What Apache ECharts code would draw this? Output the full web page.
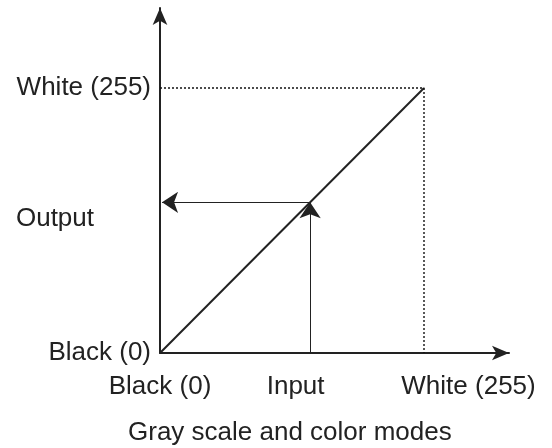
<!DOCTYPE html>
<html>
<head>
<meta charset="utf-8">
<script src="https://cdn.jsdelivr.net/npm/echarts@6/dist/echarts.min.js"></script>
<style>
  html, body { margin: 0; padding: 0; background: #fff; }
  #chart { width: 552px; height: 448px; }
</style>
</head>
<body>
<div id="chart"></div>
<script>
// input / output levels (0..255)
var levelMax = 255
var inputLevel = 145
var outputLevel = 145

// tick labels and where they sit on the axes
var xLabelPos = [0, 131, 298]
var xLabels = ['Black (0)', 'Input', 'White (255)']
var yLabelPos = [0, 129, 255]
var yLabels = ['Black (0)', 'Output', 'White (255)']

var titleText = 'Gray scale and color modes'

var font = 'Liberation Sans, Arial, Helvetica, sans-serif'
var ink = '#222'

var myChart = echarts.init(document.getElementById('chart'))

var option = {
    animation: false,
    title: {
        text: titleText,
        left: 123,
        top: 415,
        textStyle: { fontFamily: font, fontSize: 26, fontWeight: 'normal', color: ink }
    },
    grid: { left: 160, top: 8, width: 349, height: 345 },
    xAxis: {
        type: 'value',
        min: 0,
        max: 337.1,
        axisLine: { show: true, symbol: ['none', 'arrow'], symbolSize: [11, 17], lineStyle: { color: ink, width: 2 } },
        axisTick: { show: false },
        splitLine: { show: false },
        axisLabel: {
            customValues: xLabelPos,
            margin: 21,
            fontFamily: font,
            fontSize: 26,
            color: ink,
            formatter: function (v) { return xLabels[xLabelPos.indexOf(v)] }
        }
    },
    yAxis: {
        type: 'value',
        min: 0,
        max: 332,
        axisLine: { show: true, symbol: ['none', 'arrow'], symbolSize: [11, 17], lineStyle: { color: ink, width: 2 } },
        axisTick: { show: false },
        splitLine: { show: false },
        axisLabel: {
            customValues: yLabelPos,
            margin: 9,
            fontFamily: font,
            fontSize: 26,
            color: ink,
            formatter: function (v) {
                var s = yLabels[yLabelPos.indexOf(v)]
                return s === 'Output' ? '{o|' + s + '}' : s
            },
            rich: {
                o: { fontFamily: font, fontSize: 26, color: ink, padding: [0, 57, 0, 0] }
            }
        }
    },
    series: [
        {
            // transfer curve
            type: 'line',
            data: [[0, 0], [levelMax, levelMax]],
            symbol: 'none',
            lineStyle: { color: ink, width: 2 }
        },
        {
            // white guide lines
            type: 'line',
            data: [[0, levelMax], [levelMax, levelMax], [levelMax, 0]],
            symbol: 'none',
            lineStyle: { color: '#111', width: 1.4, type: [2, 2] }
        },
        {
            type: 'lines',
            coordinateSystem: 'cartesian2d',
            symbol: ['none', 'arrow'],
            symbolSize: [9, 16],
            lineStyle: { color: ink, width: 1, opacity: 1 },
            data: [
                { coords: [[inputLevel, 0], [inputLevel, outputLevel]] },
                { coords: [[inputLevel, outputLevel], [2, outputLevel]] }
            ]
        }
    ]
}

myChart.setOption(option)
</script>
</body>
</html>
